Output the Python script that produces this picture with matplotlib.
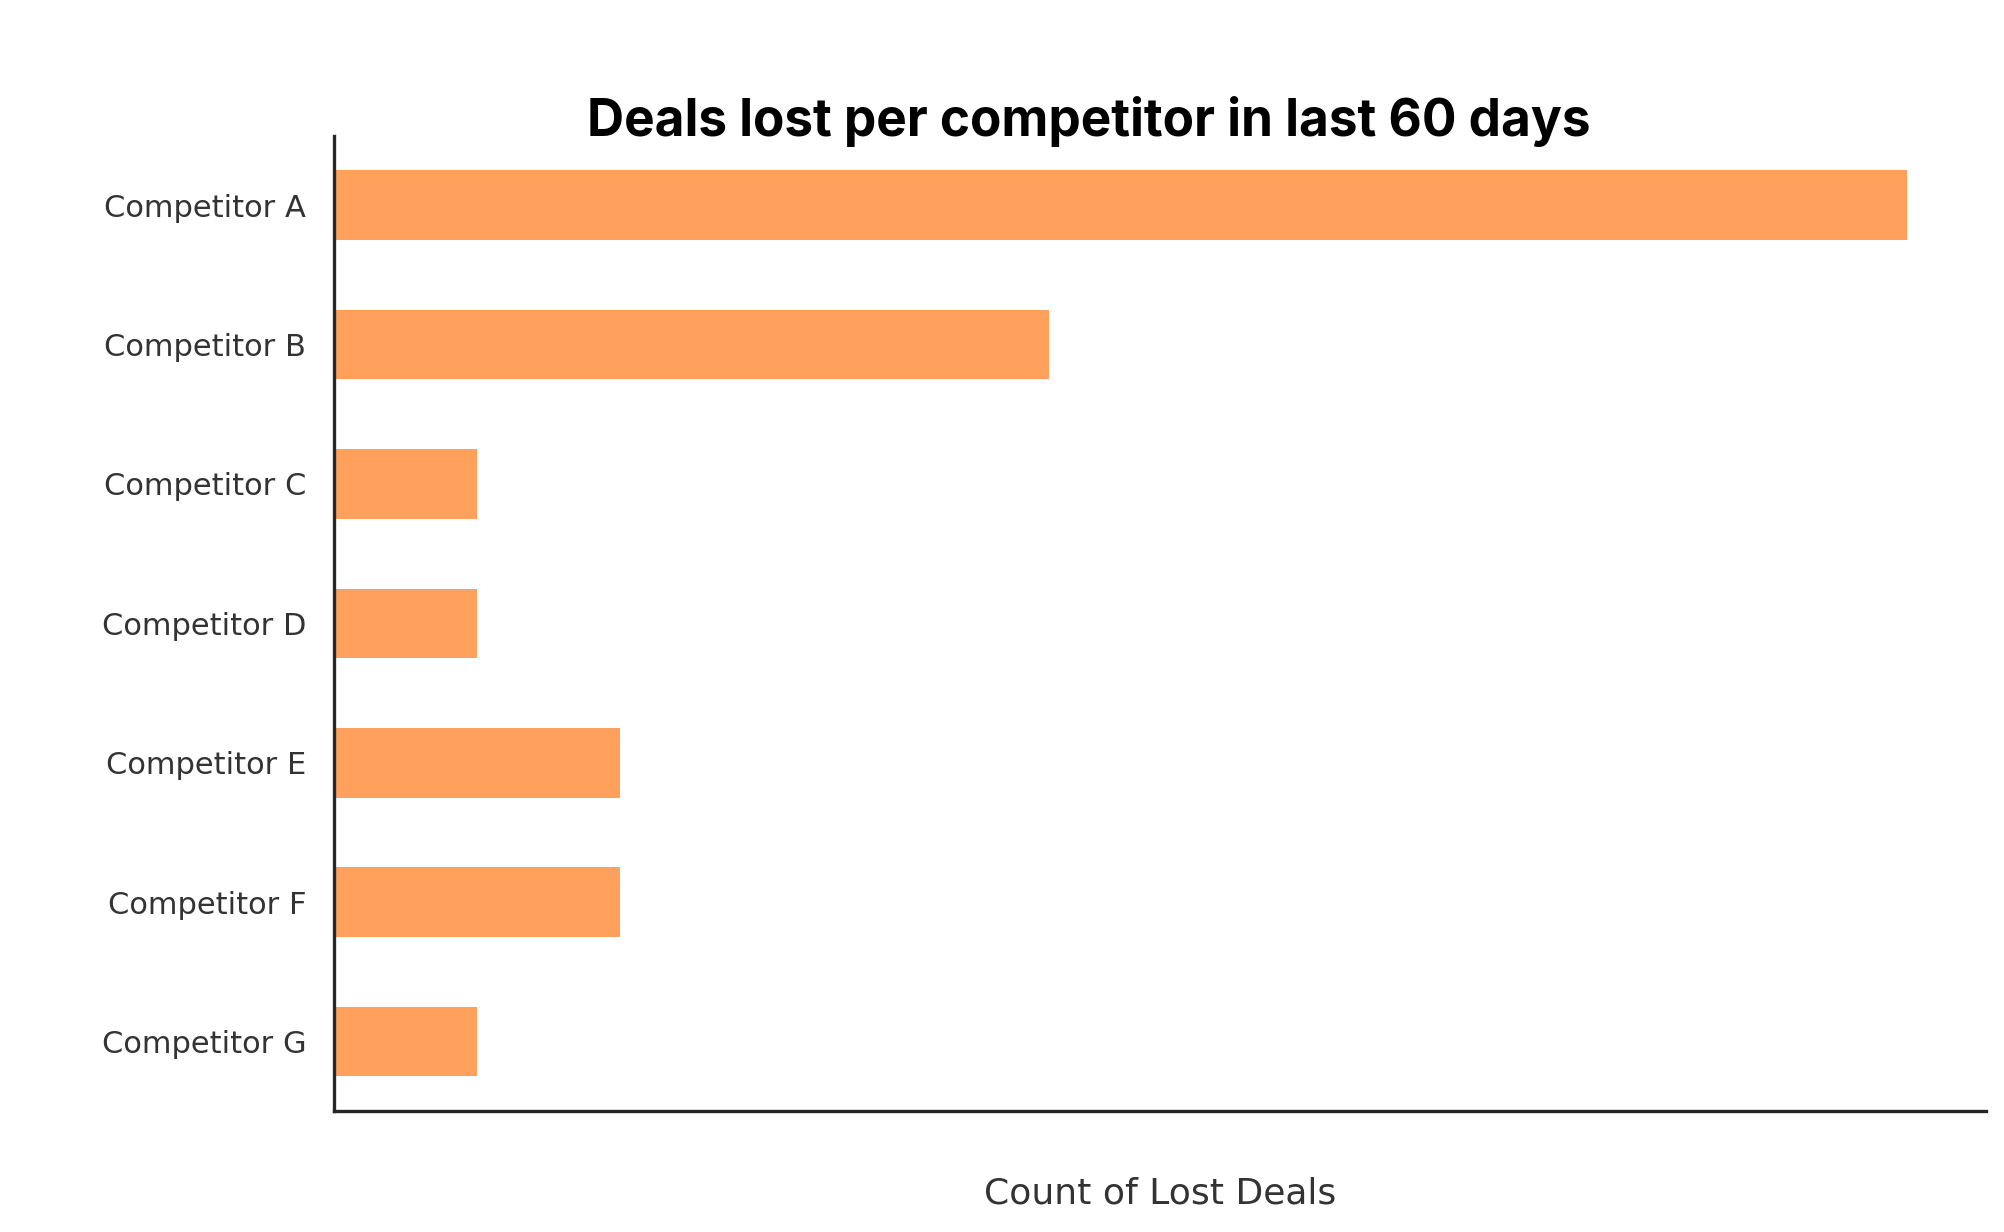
import matplotlib
matplotlib.use("Agg")
import matplotlib.pyplot as plt

categories = ["Competitor A", "Competitor B", "Competitor C", "Competitor D",
              "Competitor E", "Competitor F", "Competitor G"]
lost_deals = [11, 5, 1, 1, 2, 2, 1]

title = "Deals lost per competitor in last 60 days"
xlabel = "Count of Lost Deals"

fig = plt.figure(figsize=(10.02, 6.16), dpi=200)
ax = fig.add_axes([0.1667, 0.098, 0.991 - 0.1667, 0.890 - 0.098])

ypos = list(range(len(categories)))
ax.barh(ypos, lost_deals, height=0.5, color="#FFA05C")
ax.set_yticks(ypos)
ax.set_yticklabels(categories, fontsize=11, color="#333333", family="DejaVu Sans")
ax.set_ylim(len(categories) - 0.5, -0.5)
ax.set_xlim(0, max(lost_deals) * 1.05)
ax.set_xticks([])
ax.tick_params(axis="y", length=0, pad=10)

for s in ["top", "right"]:
    ax.spines[s].set_visible(False)
for s in ["left", "bottom"]:
    ax.spines[s].set_color("#262626")
    ax.spines[s].set_linewidth(1.2)

ax.set_xlabel(xlabel, fontsize=13, color="#333333", labelpad=23.5, family="DejaVu Sans")

fig.text(0.5435, 1 - 136 / 1232, title, ha="center", va="baseline",
         fontsize=18.5, fontweight="bold", family=["Inter", "DejaVu Sans"], color="black")

fig.savefig("out.png", dpi=200, facecolor="white")
